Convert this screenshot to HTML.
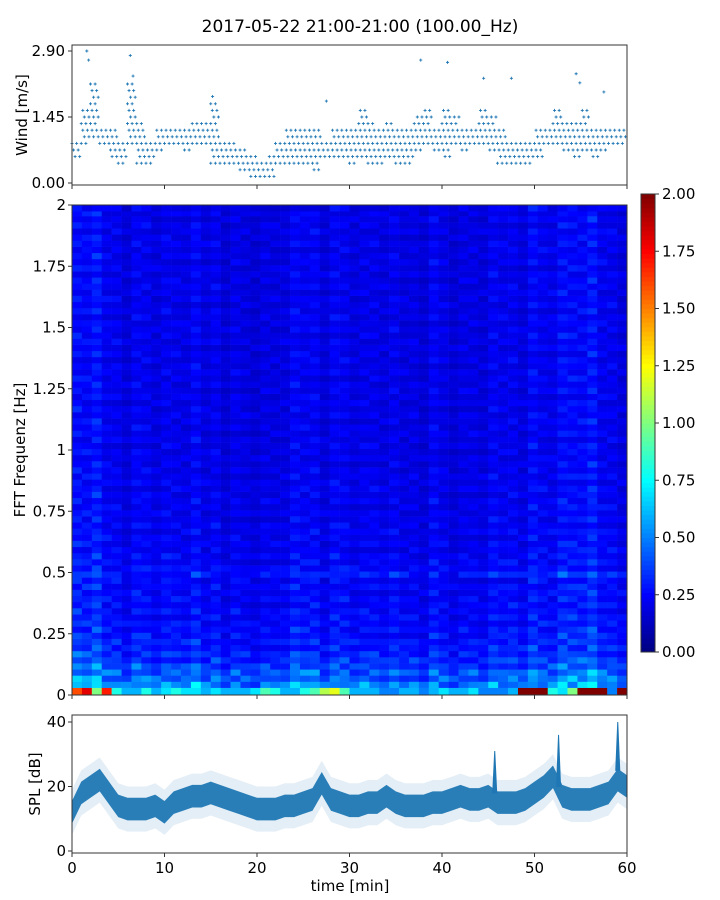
<!DOCTYPE html>
<html><head><meta charset="utf-8"><style>
html,body{margin:0;padding:0;background:#fff;width:720px;height:900px;overflow:hidden}
svg text{font-family:"DejaVu Sans","Liberation Sans",sans-serif;fill:#000}
</style></head><body>
<svg id="c" width="720" height="900" viewBox="0 0 720 900">
<text x="360" y="32" font-size="17" text-anchor="middle">2017-05-22 21:00-21:00 (100.00_Hz)</text>
<g id="wind"></g>
<g id="spec"></g>
<g id="cbar"></g>
<g id="spl"></g>
</svg>
<script>
const windLo=[0.6,0.8,1.0,0.8,0.6,0.5,0.8,0.5,0.5,0.7,0.8,0.9,0.7,0.8,0.8,0.5,0.4,0.4,0.3,0.1,0.1,0.1,0.4,0.5,0.5,0.4,0.3,0.6,0.6,0.6,0.5,0.6,0.5,0.5,0.6,0.5,0.4,0.7,0.8,0.7,0.6,0.8,0.7,0.8,0.9,0.7,0.5,0.4,0.5,0.5,0.6,0.8,0.8,0.7,0.6,0.7,0.6,0.7,0.8,0.8];
const windHi=[1.0,1.6,2.2,1.3,1.3,1.0,2.2,1.4,1.0,1.3,1.3,1.3,1.2,1.4,1.4,1.8,1.0,0.9,0.8,0.6,0.5,0.6,1.0,1.3,1.3,1.2,1.3,1.0,1.2,1.2,1.3,1.6,1.4,1.3,1.4,1.2,1.2,1.5,1.6,1.3,1.6,1.5,1.3,1.3,1.6,1.5,1.2,0.9,1.0,1.0,1.2,1.3,1.6,1.4,1.4,1.6,1.2,1.3,1.3,1.2];
const windPeakT=[1.6,1.8,6.3,6.6,15.2,27.5,37.7,40.6,44.5,47.5,54.5,54.9,57.5];
const windPeakV=[2.9,2.7,2.8,2.35,1.9,1.8,2.7,2.65,2.3,2.3,2.4,2.2,2.0];
const splMean=[12,18,20,22,18,14,13,13,13,14,12,15,16,17,17,18,17,16,15,14,13,13,13,14,14,15,16,21,16,15,14,14,15,15,17,15,14,14,14,15,15,16,17,16,16,17,15,15,15,16,18,20,23,17,16,16,16,17,18,22,20];
const splSpikeT=[45.7,52.6,59.0];
const splSpikeV=[31,36,40];
const freqRows=[0.5,0.45,0.42,0.38,0.34,0.32,0.3,0.29,0.28,0.27,0.27,0.26,0.26,0.25,0.25,0.25,0.25,0.24,0.3,0.26,0.24,0.24,0.23,0.23,0.23,0.23,0.23,0.22,0.22,0.22,0.22,0.22,0.22,0.22,0.22,0.21,0.21,0.21,0.21,0.21,0.21,0.21,0.21,0.21,0.21,0.21,0.21,0.21,0.21,0.21,0.21,0.21,0.21,0.21,0.21,0.21,0.21,0.21,0.21,0.21,0.21,0.21,0.21,0.21,0.21,0.21,0.21,0.21,0.21,0.21,0.21,0.21,0.21,0.21,0.21,0.21,0.21,0.21,0.21];
const rowJitter=[1.0,1.2,0.8,1.1,0.9,1.3,0.85,1.0,1.15,0.8,1.05,0.9,1.25,0.85,1.0,1.1,0.8,1.2,0.95,0.85,1.15,1.0,0.8,1.25,0.9,1.05,0.85,1.15,1.0,0.8,1.2,0.9,1.0,1.1,0.8,1.25,0.95,0.85,1.1,1.0,0.8,1.2,0.9,1.05,0.85,1.3,1.0,0.8,1.1,0.95,1.2,0.85,1.0,0.8,1.15,0.9,1.05,1.25,0.85,1.0,0.8,1.1,0.95,1.2,0.85,1.0,1.1,0.8,1.2,0.9,1.05,0.85,1.15,1.0,0.8,1.2,0.9,1.0,1.1];
const colJitter=[1.0,0.9,1.1,0.95,1.05,0.85,1.1,1.0,0.9,1.05];
const colLevel=[1.25,1.3,1.25,1.1,1.0,1.0,1.0,1.05,1.0,1.0,1.0,1.05,1.05,0.95,1.0,0.95,0.9,0.9,0.9,0.9,0.9,1.0,1.05,1.1,1.05,1.0,1.0,1.05,1.0,0.95,1.0,1.0,0.95,0.95,0.9,0.95,1.0,0.95,0.9,0.9,0.95,0.95,1.0,1.05,1.0,1.05,1.1,1.05,1.1,1.2,1.2,1.3,1.25,1.1,1.0,1.05];
const bottomBand=[1.6,1.8,1.0,1.7,0.8,0.6,0.6,0.8,0.6,0.7,0.8,0.7,0.7,0.6,0.7,0.6,0.6,0.6,0.7,0.9,0.8,0.6,0.6,0.8,0.9,1.1,1.2,0.9,0.6,0.6,0.6,0.5,0.5,0.6,0.6,0.5,0.6,0.7,0.6,0.6,0.7,0.5,0.5,0.5,0.6,2.0,2.0,2.0,0.8,0.7,1.0,2.0,2.0,2.0,0.5,2.0];
const cbTicks=[0,0.25,0.5,0.75,1,1.25,1.5,1.75,2];
const specTicks=[0,0.25,0.5,0.75,1,1.25,1.5,1.75,2];
const specTickLbl=["0","0.25","0.5","0.75","1","1.25","1.5","1.75","2"];
const xTicks=[0,10,20,30,40,50,60];
const windTicks=[0,1.45,2.9];
const splTicks=[0,20,40];

const NS="http://www.w3.org/2000/svg";
const X=t=>72+t/60*555;
const YW=v=>183-v/2.9*132;
const YF=f=>695-f*245;
const YS=d=>851-d*3.225;
const CB=v=>652-v/2*458;
function mk(tag,at,par){const e=document.createElementNS(NS,tag);for(const k in at)e.setAttribute(k,at[k]);par.appendChild(e);return e;}
function jet(v){v=Math.max(0,Math.min(1,v));const c=x=>Math.round(255*Math.max(0,Math.min(1,x)));
return `rgb(${c(1.5-Math.abs(4*v-3))},${c(1.5-Math.abs(4*v-2))},${c(1.5-Math.abs(4*v-1))})`;}
const blue="#1f77b4";

// wind panel
const W=document.getElementById('wind');
for(let m=0;m<60;m++){for(let k=0;k<6;k++){const t=m+k/6;
 for(let j=Math.round(windLo[m]/0.145);j*0.145<=windHi[m]+0.001;j++){ if((j+k)%3) continue;
  const x=X(t),y=YW(j*0.145);
  const p=mk('path',{d:`M${x-1.5},${y}h3M${x},${y-1.5}v3`,stroke:blue,'stroke-width':0.9},W);
  
  
 }}}
windPeakT.forEach((t,i)=>{const x=X(t),y=YW(windPeakV[i]);
 const p=mk('path',{d:`M${x-1.5},${y}h3M${x},${y-1.5}v3`,stroke:blue,'stroke-width':0.9},W);
 
 });
mk('rect',{x:72,y:45,width:555,height:140,fill:'none',stroke:'#333','stroke-width':1},W);
windTicks.forEach(v=>{mk('line',{x1:68,x2:72,y1:YW(v),y2:YW(v),stroke:'#333'},W);
 const t=mk('text',{x:65,y:YW(v)+5,'font-size':15,'text-anchor':'end'},W);t.textContent=v.toFixed(2);
 
 });
xTicks.forEach(v=>mk('line',{x1:X(v),x2:X(v),y1:185,y2:189,stroke:'#333'},W));
mk('text',{x:27,y:115,'font-size':15,'text-anchor':'middle',transform:'rotate(-90 27 115)',},W).textContent='Wind [m/s]';

// spectrogram
const S=document.getElementById('spec');
const nc=colLevel.length,cw=555/nc,rh=0.025;
for(let c=0;c<nc;c++){
 const b=mk('rect',{x:72+c*cw,y:YF(0.03),width:cw+0.3,height:0.03*245+0.3,fill:jet(bottomBand[c]/2)},S);
 
 
 for(let r=0;r<freqRows.length;r++){const f0=0.03+r*rh;
  const v=freqRows[r]*colLevel[c]*rowJitter[(r+c*7)%rowJitter.length]*colJitter[c%colJitter.length];
  const e=mk('rect',{x:72+c*cw,y:YF(Math.min(2,f0+rh)),width:cw+0.3,height:rh*245+0.3,fill:jet(v/2)},S);
  
  }}
mk('rect',{x:72,y:205,width:555,height:490,fill:'none',stroke:'#333'},S);
specTicks.forEach((v,i)=>{mk('line',{x1:68,x2:72,y1:YF(v),y2:YF(v),stroke:'#333'},S);
 const t=mk('text',{x:66,y:YF(v)+5,'font-size':15,'text-anchor':'end'},S);t.textContent=specTickLbl[i];
 
 });
xTicks.forEach(v=>mk('line',{x1:X(v),x2:X(v),y1:695,y2:699,stroke:'#333'},S));
mk('text',{x:25,y:450,'font-size':15,'text-anchor':'middle',transform:'rotate(-90 25 450)',},S).textContent='FFT Frequenz [Hz]';

// colorbar
const C=document.getElementById('cbar');
for(let i=0;i<100;i++){const r=mk('rect',{x:641,y:CB((i+1)/50),width:14,height:458/100+0.5,fill:jet((i+0.5)/100)},C);
 
 }
mk('rect',{x:641,y:194,width:14,height:458,fill:'none',stroke:'#333'},C);
cbTicks.forEach(v=>{mk('line',{x1:655,x2:659,y1:CB(v),y2:CB(v),stroke:'#333'},C);
 const t=mk('text',{x:662,y:CB(v)+5,'font-size':15},C);t.textContent=v.toFixed(2);
 
 });

// SPL
const P=document.getElementById('spl');
function band(off,op){let up='',dn='';
 splMean.forEach((m,i)=>{up+=(i?'L':'M')+X(i)+','+YS(m+off);});
 for(let i=splMean.length-1;i>=0;i--)dn+='L'+X(i)+','+YS(splMean[i]-off);
 return mk('path',{d:up+dn+'Z',fill:blue,'fill-opacity':op},P);}
band(7,0.12);
band(3.5,0.95);
splSpikeT.forEach((t,i)=>{const m=splMean[Math.round(t)];
 const p=mk('path',{d:`M${X(t)-2},${YS(m+3)}L${X(t)},${YS(splSpikeV[i])}L${X(t)+2},${YS(m+3)}Z`,fill:blue,stroke:blue,'stroke-width':1},P);
 
 });
mk('rect',{x:72,y:715,width:555,height:138,fill:'none',stroke:'#333'},P);
splTicks.forEach(v=>{mk('line',{x1:68,x2:72,y1:YS(v),y2:YS(v),stroke:'#333'},P);
 const t=mk('text',{x:66,y:YS(v)+5,'font-size':15,'text-anchor':'end'},P);t.textContent=v;
 
 });
xTicks.forEach(v=>{mk('line',{x1:X(v),x2:X(v),y1:853,y2:857,stroke:'#333'},P);
 const t=mk('text',{x:X(v),y:873,'font-size':15,'text-anchor':'middle'},P);t.textContent=v;
 
 });
mk('text',{x:40,y:784,'font-size':15,'text-anchor':'middle',transform:'rotate(-90 40 784)',},P).textContent='SPL [dB]';
mk('text',{x:350,y:891,'font-size':15,'text-anchor':'middle',},P).textContent='time [min]';
</script>
</body></html>
